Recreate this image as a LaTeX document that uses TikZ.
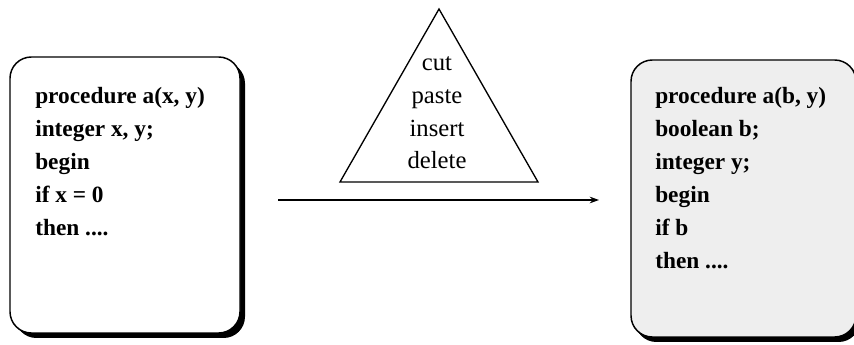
\documentclass[tikz,border=0pt]{standalone}
\usepackage{fontspec}
\setmainfont{Liberation Serif}
\usetikzlibrary{arrows.meta}
\begin{document}
\begin{tikzpicture}[x=0.75pt,y=-0.75pt]
\useasboundingbox (0,0) rectangle (854,345);
\tikzset{
  codebox/.style={draw=black, line width=1.1pt, rounded corners=16pt},
  shadowbox/.style={fill=black, rounded corners=16pt},
  code/.style={font=\bfseries\fontsize{17.5}{20}\selectfont, anchor=mid west, inner sep=0pt},
  op/.style={font=\fontsize{18.5}{20}\selectfont, anchor=mid, inner sep=0pt},
  tri/.style={draw=black, line width=1pt, line join=miter},
  flow/.style={draw=black, line width=1pt, -{Stealth[length=7pt,width=5pt]}},
}
% left box
\fill[shadowbox] (15,62) rectangle (245,338);
\draw[codebox, fill=white] (10,57) rectangle (240,333);
\node[code] (l1) at (35,100) {procedure a(x, y)};
\node[code] (l2) at (35,133) {integer x, y;};
\node[code] (l3) at (35,166) {begin};
\node[code] (l4) at (35,199) {if x = 0};
\node[code] (l5) at (35,232) {then ....};
% triangle
\coordinate (apex) at (439,9);
\coordinate (bl) at (340,182);
\coordinate (br) at (538,182);
\draw[tri] (apex) -- (bl) -- (br) -- cycle;
\node[op] (o1) at (437,67) {cut};
\node[op] (o2) at (437,100) {paste};
\node[op] (o3) at (437,133) {insert};
\node[op] (o4) at (437,165) {delete};
% arrow
\coordinate (from) at (278,200);
\coordinate (to) at (599,200);
\draw[flow] (from) -- (to);
% right box
\fill[shadowbox] (635,64) rectangle (860,342);
\draw[codebox, fill=gray!13] (631,60) rectangle (856,337);
\node[code] (r1) at (655,100) {procedure a(b, y)};
\node[code] (r2) at (655,133) {boolean b;};
\node[code] (r3) at (655,166) {integer y;};
\node[code] (r4) at (655,199) {begin};
\node[code] (r5) at (655,232) {if b};
\node[code] (r6) at (655,265) {then ....};
\end{tikzpicture}
\end{document}
